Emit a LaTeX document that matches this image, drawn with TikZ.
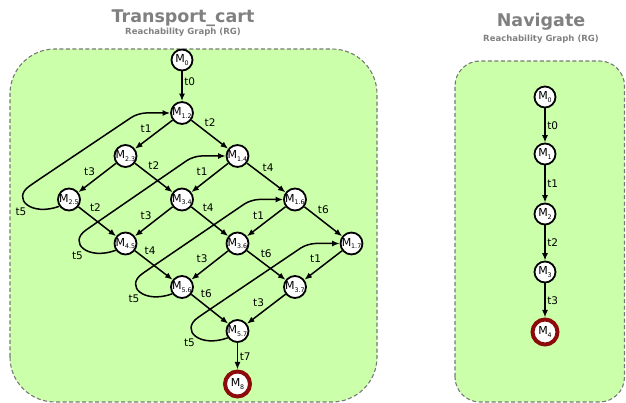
\documentclass[tikz,border=0pt]{standalone}
\usepackage{fontspec}
\setmainfont{DejaVu Sans}
\usepackage{tikz}
\usetikzlibrary{arrows.meta,positioning,calc}

\definecolor{panelgreen}{RGB}{204,255,170}
\definecolor{panelline}{RGB}{120,120,120}
\definecolor{titlegray}{RGB}{128,128,128}
\definecolor{finred}{RGB}{140,10,10}

% marking label with a small lowered index
\newcommand\mlab[1]{M\raisebox{-0.35ex}{\fontsize{6.3}{6.3}\selectfont#1}}

\begin{document}
\begin{tikzpicture}[
  x=1pt, y=1pt,
  font=\fontsize{10.5}{12}\selectfont,
  panel/.style={draw=panelline, dash pattern=on 4pt off 2.5pt, line width=1.1pt, fill=panelgreen},
  ttl/.style={text=titlegray, font=\fontsize{17.5}{20}\selectfont\bfseries, anchor=base, inner sep=0pt},
  subttl/.style={text=titlegray, font=\fontsize{8.5}{10}\selectfont\bfseries, anchor=base, inner sep=0pt},
  st/.style={circle, draw, line width=1.8pt, fill=white, minimum size=21pt, inner sep=0pt,
    font=\fontsize{11}{12}\selectfont},
  fin/.style={st, draw=finred, line width=4pt, minimum size=25pt},
  arr/.style={-{Latex[length=7.5pt,width=6pt]}, line width=1.5pt},
  lbl/.style={inner sep=1.5pt}
]
\useasboundingbox (0,0) rectangle (626,403);

% background panels
\path[panel, rounded corners=45] (10,1) rectangle (377,354);
\path[panel, rounded corners=25] (455,1) rectangle (624.5,342);

\node[ttl] (tc) at (183,380) {Transport\_cart};
\node[subttl] (tcsub) at (183,368) {Reachability Graph (RG)};
\node[ttl] (nv) at (541,376) {Navigate};
\node[subttl] (nvsub) at (541,361.5) {Reachability Graph (RG)};

% Transport_cart RG
\node[st] (m0) at (182,343) {\mlab{0}};
\node[st] (m12) at (182,290) {\mlab{1.2}};
\node[st] (m23) at (125.5,247) {\mlab{2.3}};
\node[st] (m14) at (237.5,247) {\mlab{1.4}};
\node[st] (m25) at (69,203.5) {\mlab{2.5}};
\node[st] (m34) at (182,203.5) {\mlab{3.4}};
\node[st] (m16) at (295,203.5) {\mlab{1.6}};
\node[st] (m45) at (125.5,159.5) {\mlab{4.5}};
\node[st] (m36) at (237.5,159.5) {\mlab{3.6}};
\node[st] (m17) at (351.5,159.5) {\mlab{1.7}};
\node[st] (m56) at (182,116) {\mlab{5.6}};
\node[st] (m37) at (295,116) {\mlab{3.7}};
\node[st] (m57) at (237.5,72) {\mlab{5.7}};
\node[fin] (m8) at (237.5,19) {\mlab{8}};

\draw[arr] (m0) -- node[lbl, right, pos=.35] {t0} (m12);
\draw[arr] (m12) -- node[lbl, above left] {t1} (m23);
\draw[arr] (m12) -- node[lbl, above right, pos=.3] {t2} (m14);
\draw[arr] (m23) -- node[lbl, above left] {t3} (m25);
\draw[arr] (m23) -- node[lbl, above right, pos=.3] {t2} (m34);
\draw[arr] (m14) -- node[lbl, above left] {t1} (m34);
\draw[arr] (m14) -- node[lbl, above right, pos=.35] {t4} (m16);
\draw[arr] (m25) -- node[lbl, above right, pos=.25] {t2} (m45);
\draw[arr] (m34) -- node[lbl, above left] {t3} (m45);
\draw[arr] (m34) -- node[lbl, above right, pos=.25] {t4} (m36);
\draw[arr] (m16) -- node[lbl, above left] {t1} (m36);
\draw[arr] (m16) -- node[lbl, above right, pos=.3] {t6} (m17);
\draw[arr] (m45) -- node[lbl, above right, pos=.2] {t4} (m56);
\draw[arr] (m36) -- node[lbl, above left] {t3} (m56);
\draw[arr] (m36) -- node[lbl, above right, pos=.3] {t6} (m37);
\draw[arr] (m17) -- node[lbl, above left] {t1} (m37);
\draw[arr] (m56) -- node[lbl, above right, pos=.2] {t6} (m57);
\draw[arr] (m37) -- node[lbl, above left] {t3} (m57);
\draw[arr] (m57) -- node[lbl, right] {t7} (m8);

% t5 loops back up the diagonal
\foreach \s/\d in {m25/m12, m45/m14, m56/m16, m57/m17} {
  \draw[arr, rounded corners=8] (\s.215) .. controls +(200:30) and +(215:30) .. ($(\s)+(-33,18)$)
    -- ($(\d)+(-44,0)$) -- (\d.west);
  \node[lbl] (t5\s) at ($(\s)+(-48,-12)$) {t5};
}

% Navigate RG
\node[st] (n0) at (545,306) {\mlab{0}};
\node[st] (n1) at (545,249) {\mlab{1}};
\node[st] (n2) at (545,189) {\mlab{2}};
\node[st] (n3) at (545,131) {\mlab{3}};
\node[fin] (n4) at (545,71) {\mlab{4}};

\draw[arr] (n0) -- node[lbl, right] {t0} (n1);
\draw[arr] (n1) -- node[lbl, right] {t1} (n2);
\draw[arr] (n2) -- node[lbl, right] {t2} (n3);
\draw[arr] (n3) -- node[lbl, right] {t3} (n4);
\end{tikzpicture}
\end{document}
